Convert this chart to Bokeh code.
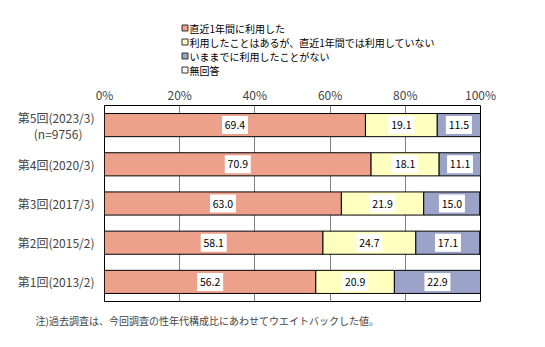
from bokeh.plotting import figure
from bokeh.layouts import column
from bokeh.models import (ColumnDataSource, FixedTicker, Range1d, CustomJSTickFormatter)
from bokeh.core.properties import value
from bokeh.embed import file_html
from bokeh.resources import INLINE

categories = ["第5回(2023/3)", "第4回(2020/3)", "第3回(2017/3)", "第2回(2015/2)", "第1回(2013/2)"]
sample_note = "(n=9756)\u3000"
series_names = ["直近1年間に利用した", "利用したことはあるが、直近1年間では利用していない",
                "いままでに利用したことがない", "無回答"]
used_recent = [69.4, 70.9, 63.0, 58.1, 56.2]
used_before = [19.1, 18.1, 21.9, 24.7, 20.9]
never_used = [11.5, 11.1, 15.0, 17.1, 22.9]
no_answer = [0.0, 0.0, 0.0, 0.0, 0.0]
x_ticks = [0, 20, 40, 60, 80, 100]
footnote = "注)過去調査は、今回調査の性年代構成比にあわせてウエイトバックした値。"

colors = ["#EDA08A", "#FFFFBF", "#9BA3C9", "#FFFFFF"]
FONT = "Noto Sans CJK JP"
W = 545
FRAME_L, FRAME_R = 104, 480

# ---------------- legend strip (top) ----------------
TOP_H = 80
top = figure(width=W, height=TOP_H, output_backend="svg", toolbar_location=None,
             x_range=Range1d(FRAME_L, FRAME_R), y_range=Range1d(TOP_H, 0),
             x_axis_type=None, y_axis_type=None, min_border=0)
top.outline_line_color = None
top.grid.visible = False
row_y = [27.5 + 14 * i for i in range(len(series_names))]
lsrc = ColumnDataSource(dict(x=[184.5] * len(series_names), tx=[189] * len(series_names),
                             y=row_y, c=colors, t=series_names))
top.rect(x="x", y="y", width=6, height=6, width_units="screen", height_units="screen",
         source=lsrc, fill_color="c", line_color="#333333", line_width=1)
top.text(x="tx", y="y", text="t", source=lsrc, text_align="left", text_baseline="middle",
         text_font=value(FONT), text_font_size="10px", text_color="black")

# ---------------- main chart ----------------
n = len(categories)
ys = [n - i - 0.5 for i in range(n)]
keys = ["s0", "s1", "s2", "s3"]
data = dict(y=ys, s0=used_recent, s1=used_before, s2=never_used, s3=no_answer)
src = ColumnDataSource(data)

MAIN_H = 230
p = figure(width=W, height=MAIN_H, output_backend="svg", toolbar_location=None,
           x_range=Range1d(0, 100), y_range=Range1d(0, n), x_axis_location="above",
           min_border_left=FRAME_L, min_border_right=W - FRAME_R, min_border_top=25, min_border_bottom=9)

p.hbar_stack(keys, y="y", height=0.59, source=src, color=colors,
             line_color="black", line_width=1)

for i, k in enumerate(keys[:3]):
    vals = data[k]
    lefts = [sum(data[kk][j] for kk in keys[:i]) for j in range(n)]
    centers = [l + v / 2 for l, v in zip(lefts, vals)]
    dsrc = ColumnDataSource(dict(x=centers, y=ys, t=["%.1f" % v for v in vals]))
    p.rect(x="x", y="y", width=26, height=18, width_units="screen", height_units="screen",
           source=dsrc, fill_color="white", line_color=None)
    p.text(x="x", y="y", text="t", source=dsrc, text_align="center", text_baseline="middle",
           text_font=value(FONT), text_font_size="10.5px", text_color="black")

p.outline_line_color = "black"
p.outline_line_width = 1
p.xgrid.ticker = FixedTicker(ticks=[20, 40, 60, 80])
p.xgrid.grid_line_color = "#808080"
p.ygrid.grid_line_color = None

xa = p.xaxis[0]
xa.ticker = FixedTicker(ticks=x_ticks)
xa.formatter = CustomJSTickFormatter(code="return tick + '%';")
xa.axis_line_color = None
xa.major_tick_line_color = None
xa.minor_tick_line_color = None
xa.major_tick_out = 0
xa.major_tick_in = 0
xa.major_label_text_font = FONT
xa.major_label_text_font_size = "12px"
xa.major_label_standoff = 3

# y ticks: one per category, the first one split into two lines
off = 0.205
y_tick_vals = [ys[0] + off, ys[0] - off] + ys[1:]
y_tick_text = [categories[0], sample_note] + categories[1:]
ya = p.yaxis[0]
ya.ticker = FixedTicker(ticks=y_tick_vals)
ya.formatter = CustomJSTickFormatter(args=dict(tv=y_tick_vals, tt=y_tick_text), code="""
    let best = 0, bd = 1e9;
    for (let i = 0; i < tv.length; i++) { const d = Math.abs(tv[i] - tick); if (d < bd) { bd = d; best = i; } }
    return tt[best];
""")
ya.axis_line_color = None
ya.major_tick_line_color = None
ya.minor_tick_line_color = None
ya.major_tick_out = 0
ya.major_tick_in = 0
ya.major_label_text_font = FONT
ya.major_label_text_font_size = "12px"
ya.major_label_standoff = 10

# ---------------- footnote strip (bottom) ----------------
BOT_H = 347 - TOP_H - MAIN_H
bot = figure(width=W, height=BOT_H, output_backend="svg", toolbar_location=None,
             x_range=Range1d(FRAME_L, FRAME_R), y_range=Range1d(BOT_H, 0),
             x_axis_type=None, y_axis_type=None, min_border=0)
bot.outline_line_color = None
bot.grid.visible = False
bot.title.text = footnote
bot.title.align = "left"
bot.title.offset = 35 - FRAME_L
bot.title.text_font = FONT
bot.title.text_font_size = "10px"
bot.title.text_font_style = "normal"
bot.title.standoff = 0

layout = column(top, p, bot, spacing=0)
open("out.html", "w").write(file_html(layout, INLINE))
